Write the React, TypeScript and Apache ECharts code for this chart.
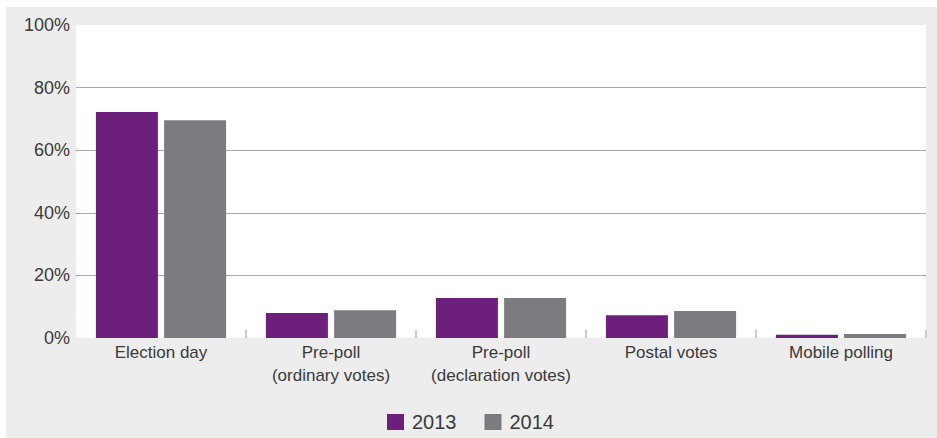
import React, { useEffect, useRef } from "react";
import * as echarts from "echarts";

const categories = [
  "Election day",
  "Pre-poll\n(ordinary votes)",
  "Pre-poll\n(declaration votes)",
  "Postal votes",
  "Mobile polling",
];
const values2013 = [72.2, 8.0, 12.8, 7.3, 1.0];
const values2014 = [69.6, 8.9, 12.8, 8.6, 1.3];
const yTicks = [0, 20, 40, 60, 80, 100];

export default function App() {
  const ref = useRef<HTMLDivElement>(null);
  useEffect(() => {
    if (!ref.current) return;
    const chart = echarts.init(ref.current, undefined, { renderer: "svg" });
    const font = "'Liberation Sans', Arial, Helvetica, sans-serif";
    chart.setOption({
      animation: false,
      backgroundColor: "transparent",
      textStyle: { fontFamily: font },
      grid: {
        left: 70,
        right: 11,
        top: 18,
        bottom: 100,
        show: true,
        backgroundColor: "#ffffff",
        borderWidth: 0,
      },
      legend: {
        left: 376,
        top: 400,
        icon: "rect",
        itemWidth: 17,
        itemHeight: 16,
        itemGap: 28,
        textStyle: { fontSize: 20, color: "#3a3a3a", fontFamily: font, padding: [0, 0, 0, 3] },
        data: ["2013", "2014"],
      },
      xAxis: {
        type: "category",
        data: categories,
        axisLine: { show: false },
        axisTick: {
          show: true,
          inside: true,
          length: 8,
          interval: (i: number) => i > 0,
          lineStyle: { color: "#cccccc", width: 2 },
        },
        axisLabel: {
          fontSize: 17,
          lineHeight: 23,
          color: "#3a3a3a",
          margin: 3,
          interval: 0,
          fontFamily: font,
        },
      },
      yAxis: {
        type: "value",
        min: 0,
        max: 100,
        interval: 20,
        axisLine: { show: false },
        axisTick: { show: false },
        axisLabel: {
          formatter: (v: number) => (yTicks.includes(v) ? v + "%" : ""),
          fontSize: 18,
          color: "#3a3a3a",
          margin: 6,
          fontFamily: font,
        },
        splitLine: {
          show: true,
          showMinLine: false,
          showMaxLine: false,
          lineStyle: { color: "#a8a8a8", width: 1 },
        },
      },
      series: [
        {
          name: "2013",
          type: "bar",
          data: values2013,
          barWidth: 62,
          barGap: "10%",
          itemStyle: { color: "#6c1f7b" },
        },
        {
          name: "2014",
          type: "bar",
          data: values2014,
          barWidth: 62,
          barGap: "10%",
          itemStyle: { color: "#7c7b80" },
        },
      ],
    });
    return () => chart.dispose();
  }, []);
  return (
    <div style={{ position: "fixed", left: 0, top: 0, width: 937, height: 438, background: "#ffffff" }}>
      <div
        ref={ref}
        style={{ position: "absolute", left: 6, top: 7, width: 931, height: 431, background: "#ededed" }}
      />
    </div>
  );
}
